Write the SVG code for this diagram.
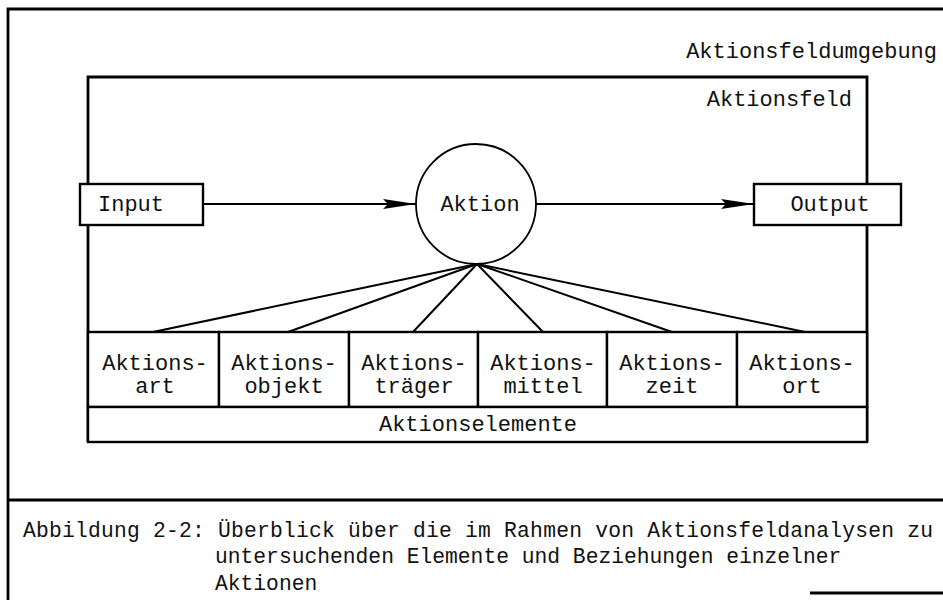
<svg xmlns="http://www.w3.org/2000/svg" width="943" height="600" viewBox="0 0 943 600">
  <defs>
    <style>
      .frame { fill: none; stroke: #000; stroke-width: 2.8; }
      .box { fill: #fff; stroke: #000; stroke-width: 2.4; }
      .cell { fill: #fff; stroke: #000; stroke-width: 2.4; }
      .edge { fill: none; stroke: #000; stroke-width: 2; }
      .t { font-family: "Liberation Mono", "DejaVu Sans Mono", monospace; font-size: 22px; fill: #111; }
      .cap { font-size: 21.3px; }
      .c { text-anchor: middle; }
      .r { text-anchor: end; }
    </style>
    <marker id="arrow" markerWidth="34" markerHeight="12" refX="33" refY="6" orient="auto" markerUnits="userSpaceOnUse">
      <path d="M0,1 L33,6 L0,11 L5,6 Z" fill="#000"/>
    </marker>
  </defs>

  <rect width="943" height="600" fill="#fff"/>

  <!-- environment frame and caption panel -->
  <g id="umgebung">
    <path class="frame" d="M945,9 H8 V600"/>
    <path class="frame" d="M8,500 H945"/>
    <path class="frame" d="M810,593 H945" stroke-width="2"/>
    <text class="t r" x="937" y="58">Aktionsfeldumgebung</text>
  </g>

  <!-- action field frame -->
  <g id="aktionsfeld">
    <path class="frame" d="M88,442 V77 H867 V442"/>
    <text class="t r" x="852" y="106">Aktionsfeld</text>
  </g>

  <!-- connectors -->
  <g id="connectors">
    <line class="edge" x1="203" y1="204" x2="416" y2="204" marker-end="url(#arrow)"/>
    <line class="edge" x1="536" y1="204" x2="754" y2="204" marker-end="url(#arrow)"/>
    <line class="edge" x1="477" y1="264" x2="153" y2="332"/>
    <line class="edge" x1="477" y1="264" x2="288" y2="332"/>
    <line class="edge" x1="477" y1="264" x2="413" y2="332"/>
    <line class="edge" x1="477" y1="264" x2="543" y2="332"/>
    <line class="edge" x1="477" y1="264" x2="672" y2="332"/>
    <line class="edge" x1="477" y1="264" x2="805" y2="332"/>
  </g>

  <g id="input">
    <rect class="box" x="80" y="184" width="123" height="41"/>
    <text class="t c" x="131" y="211">Input</text>
  </g>

  <g id="aktion">
    <circle cx="476" cy="204" r="60" fill="#fff" stroke="#000" stroke-width="1.8"/>
    <text class="t c" x="480" y="211">Aktion</text>
  </g>

  <g id="output">
    <rect class="box" x="754" y="184" width="147" height="41"/>
    <text class="t c" x="830" y="211">Output</text>
  </g>

  <g id="aktionsart">
    <rect class="cell" x="88" y="332" width="131" height="75"/>
    <text class="t c" x="155" y="370">Aktions-</text>
    <text class="t c" x="155" y="393">art</text>
  </g>
  <g id="aktionsobjekt">
    <rect class="cell" x="219" y="332" width="130" height="75"/>
    <text class="t c" x="284" y="370">Aktions-</text>
    <text class="t c" x="284" y="393">objekt</text>
  </g>
  <g id="aktionstraeger">
    <rect class="cell" x="349" y="332" width="129" height="75"/>
    <text class="t c" x="414" y="370">Aktions-</text>
    <text class="t c" x="414" y="393">träger</text>
  </g>
  <g id="aktionsmittel">
    <rect class="cell" x="478" y="332" width="129" height="75"/>
    <text class="t c" x="543" y="370">Aktions-</text>
    <text class="t c" x="543" y="393">mittel</text>
  </g>
  <g id="aktionszeit">
    <rect class="cell" x="607" y="332" width="130" height="75"/>
    <text class="t c" x="672" y="370">Aktions-</text>
    <text class="t c" x="672" y="393">zeit</text>
  </g>
  <g id="aktionsort">
    <rect class="cell" x="737" y="332" width="130" height="75"/>
    <text class="t c" x="802" y="370">Aktions-</text>
    <text class="t c" x="802" y="393">ort</text>
  </g>
  <g id="aktionselemente">
    <rect class="cell" x="88" y="407" width="779" height="35"/>
    <text class="t c" x="478" y="431">Aktionselemente</text>
  </g>

  <!-- figure caption -->
  <g id="caption">
    <text class="t cap" x="23" y="537" textLength="910">Abbildung 2-2: Überblick über die im Rahmen von Aktionsfeldanalysen zu</text>
    <text class="t cap" x="215" y="563">untersuchenden Elemente und Beziehungen einzelner</text>
    <text class="t cap" x="215" y="590">Aktionen</text>
  </g>
</svg>
